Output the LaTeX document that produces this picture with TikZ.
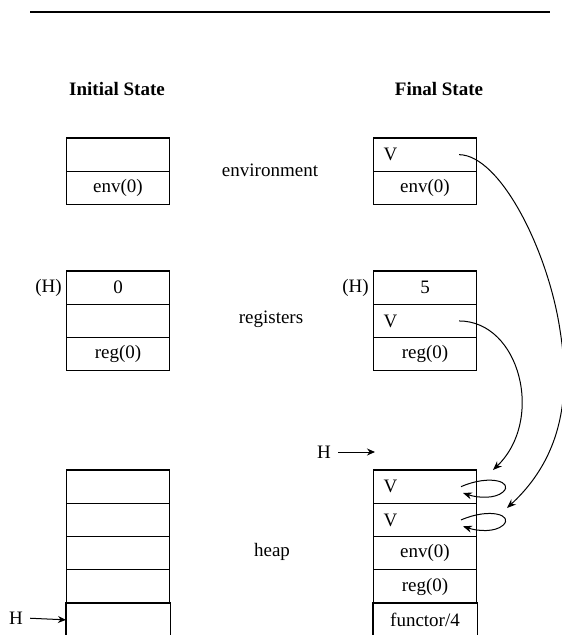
\documentclass[tikz,border=0pt]{standalone}
\usepackage{fontspec}
\setmainfont{Liberation Serif}
\usetikzlibrary{arrows.meta}
\newcommand\dtxt{\fontsize{19}{22}\selectfont}
\tikzset{
  cellbox/.style={draw, line width=1.1pt, minimum width=103pt, minimum height=33.3pt, inner sep=0pt, font=\dtxt},
  vcell/.style={cellbox, text width=83pt, align=left, inner xsep=10pt},
  opencell/.style={cellbox, draw=none},
  cellline/.style={line width=1.1pt},
  lbl/.style={font=\dtxt, inner sep=2pt},
  head/.style={font=\dtxt\bfseries},
  conn/.style={line width=1pt, -{Stealth[length=9pt,width=7pt]}},
  harrow/.style={line width=1pt, -{Stealth[length=8pt,width=7pt]}},
}
\begin{document}
\begin{tikzpicture}[x=1pt,y=-1pt]
\useasboundingbox (0,0) rectangle (562,635);
% top rule
\coordinate (r1) at (30,12);
\coordinate (r2) at (550,12);
\draw[line width=1.8pt] (r1) -- (r2);
% headers
\node[head] (hi) at (117,89) {Initial State};
\node[head] (hf) at (439,89) {Final State};
% middle labels
\node[lbl] (lenv) at (270,170) {environment};
\node[lbl] (lreg) at (271,319) {registers};
\node[lbl] (lheap) at (272,552) {heap};
% initial environment
\node[cellbox] (ie1) at (118,154.65) {};
\node[cellbox] (ie2) at (118,187.95) {env(0)};
% final environment
\node[vcell] (fe1) at (425,154.65) {V};
\node[cellbox] (fe2) at (425,187.95) {env(0)};
% initial registers
\node[cellbox] (ir1) at (118,287.65) {0};
\node[cellbox] (ir2) at (118,320.95) {};
\node[cellbox] (ir3) at (118,354.25) {reg(0)};
\node[lbl, anchor=east] (ihl) at ([xshift=-2pt]ir1.west) {(H)};
% final registers
\node[cellbox] (fr1) at (425,287.65) {5};
\node[vcell] (fr2) at (425,320.95) {V};
\node[cellbox] (fr3) at (425,354.25) {reg(0)};
\node[lbl, anchor=east] (fhl) at ([xshift=-2pt]fr1.west) {(H)};
% initial heap
\node[cellbox] (ih1) at (118,486.65) {};
\node[cellbox] (ih2) at (118,519.95) {};
\node[cellbox] (ih3) at (118,553.25) {};
\node[cellbox] (ih4) at (118,586.55) {};
\node[opencell] (ih5) at (118,619.85) {};
\draw[cellline] (ih5.south west) -- (ih5.north west) -- (ih5.north east) -- (ih5.south east);
% final heap
\node[vcell] (fh1) at (425,486.65) {V};
\node[vcell] (fh2) at (425,519.95) {V};
\node[cellbox] (fh3) at (425,553.25) {env(0)};
\node[cellbox] (fh4) at (425,586.55) {reg(0)};
\node[opencell] (fh5) at (425,619.85) {functor/4};
\draw[cellline] (fh5.south west) -- (fh5.north west) -- (fh5.north east) -- (fh5.south east);
% H pointers
\node[lbl] (Hl) at (16,618) {H};
\draw[harrow, shorten <=5pt] (Hl.east) -- (ih5.west);
\node[lbl] (Hr) at (324,452) {H};
\coordinate (hrt) at (375,452);
\draw[harrow, shorten <=5pt] (Hr.east) -- (hrt);
% connectors
\coordinate (t1) at (493,470);
\coordinate (t2) at (507,508);
\draw[conn] ([xshift=-18pt]fe1.east) .. controls (500,155) and (548,250) .. (560,330)
   .. controls (568,380) and (570,450) .. (t2);
\draw[conn] ([xshift=-18pt]fr2.east) .. controls (520,321) and (545,420) .. (t1);
% self loops
\coordinate (l1) at (463,493);
\coordinate (l2) at (463,526.3);
\draw[conn] ([xshift=-16pt]fh1.east) .. controls (490,474) and (514,482) .. (503,492)
   .. controls (495,499) and (478,498) .. (l1);
\draw[conn] ([xshift=-16pt]fh2.east) .. controls (490,507.3) and (514,515.3) .. (503,525.3)
   .. controls (495,532.3) and (478,531.3) .. (l2);
\end{tikzpicture}
\end{document}
